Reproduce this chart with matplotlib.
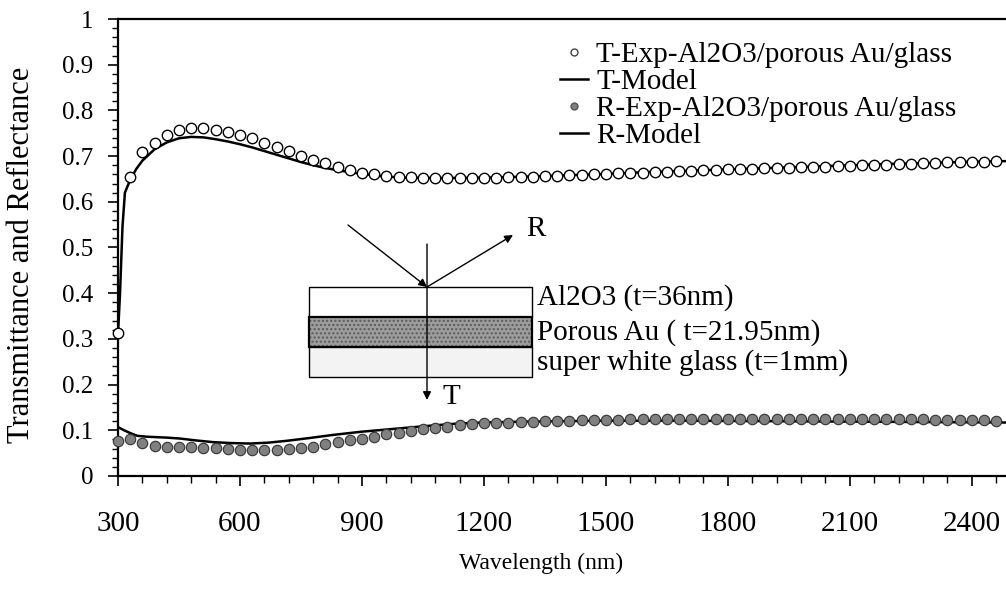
import numpy as np
import matplotlib
matplotlib.use('Agg')
import matplotlib.pyplot as plt
from matplotlib.lines import Line2D
from matplotlib.patches import Rectangle
from matplotlib.ticker import MultipleLocator, FormatStrFormatter

plt.rcParams['font.family'] = ['Liberation Serif', 'DejaVu Serif']

# measured points, every 30 nm from 300 to 2460 nm
wavelength = np.arange(300, 2461, 30)

t_exp = [0.313, 0.654, 0.709, 0.729, 0.746, 0.757, 0.761, 0.761, 0.757, 0.753,
         0.746, 0.740, 0.729, 0.720, 0.711, 0.700, 0.691, 0.685, 0.676, 0.670,
         0.663, 0.661, 0.657, 0.655, 0.654, 0.653, 0.652, 0.652, 0.652, 0.652,
         0.653, 0.653, 0.654, 0.655, 0.655, 0.656, 0.657, 0.658, 0.659, 0.660,
         0.661, 0.662, 0.663, 0.664, 0.665, 0.666, 0.667, 0.668, 0.669, 0.670,
         0.671, 0.671, 0.672, 0.673, 0.674, 0.675, 0.676, 0.677, 0.677, 0.678,
         0.679, 0.680, 0.681, 0.681, 0.682, 0.683, 0.684, 0.685, 0.686, 0.687,
         0.688, 0.688, 0.689]

r_exp = [0.077, 0.080, 0.072, 0.066, 0.064, 0.064, 0.064, 0.062, 0.061, 0.059,
         0.056, 0.056, 0.056, 0.056, 0.059, 0.061, 0.064, 0.069, 0.074, 0.078,
         0.082, 0.086, 0.091, 0.095, 0.099, 0.102, 0.105, 0.108, 0.111, 0.113,
         0.115, 0.116, 0.117, 0.118, 0.119, 0.120, 0.121, 0.121, 0.122, 0.122,
         0.123, 0.123, 0.124, 0.124, 0.124, 0.125, 0.125, 0.125, 0.125, 0.125,
         0.125, 0.125, 0.125, 0.125, 0.125, 0.125, 0.125, 0.125, 0.125, 0.125,
         0.125, 0.125, 0.125, 0.124, 0.124, 0.124, 0.124, 0.123, 0.123, 0.123,
         0.122, 0.122, 0.121]

# model curves
t_model_wl = [300, 305, 311, 317, 330, 345, 360, 390, 420, 450, 480, 510, 540,
              570, 600, 630, 660, 690, 720, 750, 780, 810, 840, 870, 900, 930,
              960, 1000, 1100, 1200, 1300, 1400, 1500, 1600, 1700, 1800, 1900,
              2000, 2100, 2200, 2300, 2400, 2484]
t_model = [0.31, 0.40, 0.545, 0.62, 0.648, 0.672, 0.69, 0.715, 0.73, 0.739,
           0.742, 0.741, 0.737, 0.732, 0.726, 0.719, 0.711, 0.703, 0.695,
           0.687, 0.680, 0.674, 0.669, 0.665, 0.661, 0.658, 0.655, 0.653,
           0.652, 0.653, 0.655, 0.658, 0.661, 0.665, 0.668, 0.671, 0.674,
           0.677, 0.680, 0.683, 0.685, 0.688, 0.689]

r_model_wl = [300, 315, 330, 347, 370, 395, 420, 452, 490, 535, 580, 625, 670,
              715, 770, 830, 900, 990, 1080, 1140, 1200, 1300, 1400, 1500,
              1700, 1900, 2100, 2300, 2484]
r_model = [0.107, 0.100, 0.094, 0.088, 0.086, 0.085, 0.084, 0.082, 0.078,
           0.074, 0.072, 0.071, 0.073, 0.077, 0.083, 0.090, 0.097, 0.104,
           0.111, 0.115, 0.117, 0.119, 0.120, 0.121, 0.121, 0.120, 0.119,
           0.118, 0.117]

labels = ['T-Exp-Al2O3/porous Au/glass', 'T-Model',
          'R-Exp-Al2O3/porous Au/glass', 'R-Model']

fig = plt.figure(figsize=(10.06, 5.89), dpi=100)
ax = fig.add_axes([118/1006, 1-476/589, 888/1006, 457/589])

ax.plot(t_model_wl, t_model, color='black', lw=1.8, zorder=2)
ax.plot(r_model_wl, r_model, color='black', lw=1.8, zorder=2)
ax.plot(wavelength, t_exp, 'o', ms=7.5, mfc='white', mec='black', mew=1.0,
        zorder=3, clip_on=False)
ax.plot(wavelength, r_exp, 'o', ms=7.5, mfc='#808080', mec='#333333',
        mew=0.8, zorder=3, clip_on=False)

ax.set_xlim(300, 2484)
ax.set_ylim(0, 1)
ax.xaxis.set_major_locator(MultipleLocator(300))
ax.xaxis.set_minor_locator(MultipleLocator(60))
ax.yaxis.set_major_locator(MultipleLocator(0.1))
ax.yaxis.set_minor_locator(MultipleLocator(0.02))
ax.yaxis.set_major_formatter(FormatStrFormatter('%g'))
ax.tick_params(axis='x', which='major', length=7, width=1.2, labelsize=21,
               pad=18.5, direction='out')
ax.tick_params(axis='x', which='minor', length=5, width=1.0, direction='out')
ax.tick_params(axis='y', which='major', length=7, width=1.2, labelsize=18,
               pad=11, direction='out')
ax.tick_params(axis='y', which='minor', length=4, width=1.0, direction='out')
ax.spines['right'].set_visible(False)
for s in ['left', 'bottom', 'top']:
    ax.spines[s].set_linewidth(1.6)
ax.set_xlabel('Wavelength (nm)', fontsize=17)
ax.xaxis.set_label_coords((541-118)/888, (476-553)/457)
ax.set_ylabel('Transmittance and Reflectance', fontsize=22)
ax.yaxis.set_label_coords((36-118)/888, (476-255)/457)

handles = [Line2D([], [], ls='none', marker='o', ms=5, mfc='white', mec='#444444'),
           Line2D([], [], color='black', lw=1.8),
           Line2D([], [], ls='none', marker='o', ms=5, mfc='#808080', mec='#555555'),
           Line2D([], [], color='black', lw=1.8)]
ax.legend(handles, labels, loc='upper left', bbox_to_anchor=(560/1006, 1-42/589),
          bbox_transform=fig.transFigure, frameon=False, fontsize=21,
          handlelength=0.95, handletextpad=0.3, labelspacing=0.02,
          borderpad=0, borderaxespad=0)

# layer diagram, drawn in pixel coordinates
ov = fig.add_axes([0, 0, 1, 1])
ov.set_xlim(0, 1006)
ov.set_ylim(589, 0)
ov.axis('off')
ov.patch.set_visible(False)

ov.add_patch(Rectangle((309, 287), 223, 30, fc='white', ec='black', lw=1))
ov.add_patch(Rectangle((309, 317), 223, 30, fc='#9c9c9c', ec='#5a5a5a', lw=0,
                       hatch='....'))
ov.add_patch(Rectangle((309, 317), 223, 30, fill=False, ec='black', lw=1.6))
ov.add_patch(Rectangle((309, 347), 223, 30, fc='#f3f3f3', ec='black', lw=1))
ov.annotate('', xy=(427, 400), xytext=(427, 244),
            arrowprops=dict(arrowstyle='-|>', color='black', lw=1,
                            mutation_scale=12, shrinkA=0, shrinkB=0))
ov.annotate('', xy=(427, 287), xytext=(348, 225),
            arrowprops=dict(arrowstyle='-|>', color='black', lw=1,
                            mutation_scale=12, shrinkA=0, shrinkB=0))
ov.annotate('', xy=(513, 235), xytext=(427, 287),
            arrowprops=dict(arrowstyle='-|>', color='black', lw=1,
                            mutation_scale=12, shrinkA=0, shrinkB=0))
ov.text(526, 229, 'R', fontsize=21, va='center', ha='left')
ov.text(443, 397, 'T', fontsize=21, va='center', ha='left')
ov.text(537, 298, 'Al2O3 (t=36nm)', fontsize=21, va='center', ha='left')
ov.text(537, 333, 'Porous Au ( t=21.95nm)', fontsize=21, va='center', ha='left')
ov.text(537, 363, 'super white glass (t=1mm)', fontsize=21, va='center', ha='left')

fig.savefig('out.png', dpi=100)
